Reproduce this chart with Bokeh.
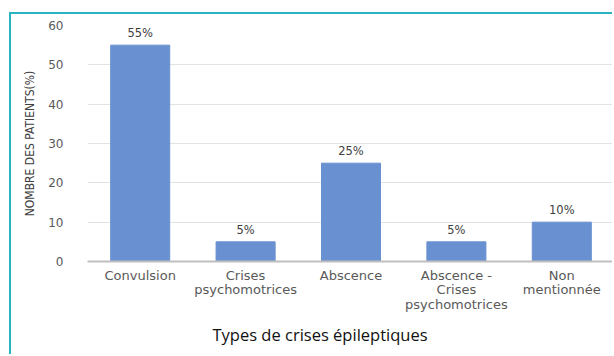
from bokeh.plotting import figure
from bokeh.models import ColumnDataSource, Title, FixedTicker, LabelSet
from bokeh.core.properties import value
from bokeh.embed import file_html
from bokeh.resources import INLINE

# Seizure types (multi-line tick text) and share of patients (%)
categories = ["Convulsion", "Crises\npsychomotrices", "Abscence",
              "Abscence -\nCrises\npsychomotrices", "Non\nmentionnée"]
percent = [55, 5, 25, 5, 10]
y_ticks = [0, 10, 20, 30, 40, 50, 60]

source = ColumnDataSource(data=dict(
    cat=categories,
    val=percent,
    txt=[f"{v}%" for v in percent],
))

p = figure(
    x_range=categories, y_range=(0, 60),
    width=603, height=342,
    output_backend="svg", toolbar_location=None,
    min_border_left=76, min_border_right=0,
    min_border_top=11, min_border_bottom=95,
)
p.styles = {
    "border-top": "2px solid #2ab4c1",
    "border-left": "2px solid #2ab4c1",
    "margin-top": "12px",
    "margin-left": "9px",
}
p.outline_line_color = None
p.background_fill_color = "white"
p.border_fill_color = "white"

p.vbar(x="cat", top="val", width=0.56, source=source,
       fill_color="#6990d0", line_color="#6990d0")

p.add_layout(LabelSet(x="cat", y="val", text="txt", source=source,
                      text_align="center", text_baseline="bottom",
                      y_offset=5, text_font=value("DejaVu Sans"),
                      text_font_size="11.5px", text_color="#404040"))

# grid
p.xgrid.grid_line_color = None
p.ygrid.grid_line_color = "#e3e3e3"
p.ygrid.grid_line_width = 1
p.yaxis.ticker = FixedTicker(ticks=y_ticks)

# y axis
p.yaxis.axis_line_color = None
p.yaxis.major_tick_line_color = None
p.yaxis.minor_tick_line_color = None
p.yaxis.major_label_standoff = 18
p.yaxis.major_label_text_font = "DejaVu Sans"
p.yaxis.major_label_text_font_size = "12px"
p.yaxis.major_label_text_color = "#595959"
p.yaxis.axis_label = "NOMBRE DES PATIENTS(%)"
p.yaxis.axis_label_text_font = "DejaVu Sans Condensed, Liberation Sans"
p.yaxis.axis_label_text_font_style = "normal"
p.yaxis.axis_label_text_font_size = "12px"
p.yaxis.axis_label_text_color = "#404040"
p.yaxis.axis_label_standoff = 8

# x axis
p.xaxis.axis_line_color = "#bfbfbf"
p.xaxis.axis_line_width = 2
p.xaxis.major_tick_line_color = None
p.xaxis.minor_tick_line_color = None
p.xaxis.major_label_standoff = 0
p.xaxis.major_label_text_font = "DejaVu Sans"
p.xaxis.major_label_text_font_size = "13px"
p.xaxis.major_label_text_line_height = 0.97
p.xaxis.major_label_text_color = "#595959"

p.add_layout(Title(text="Types de crises épileptiques", align="left",
                   offset=125, text_font="Open Sans", text_font_size="16.5px",
                   text_font_style="normal", text_color="#111111",
                   standoff=12), "below")

open("out.html", "w").write(file_html(p, INLINE))
